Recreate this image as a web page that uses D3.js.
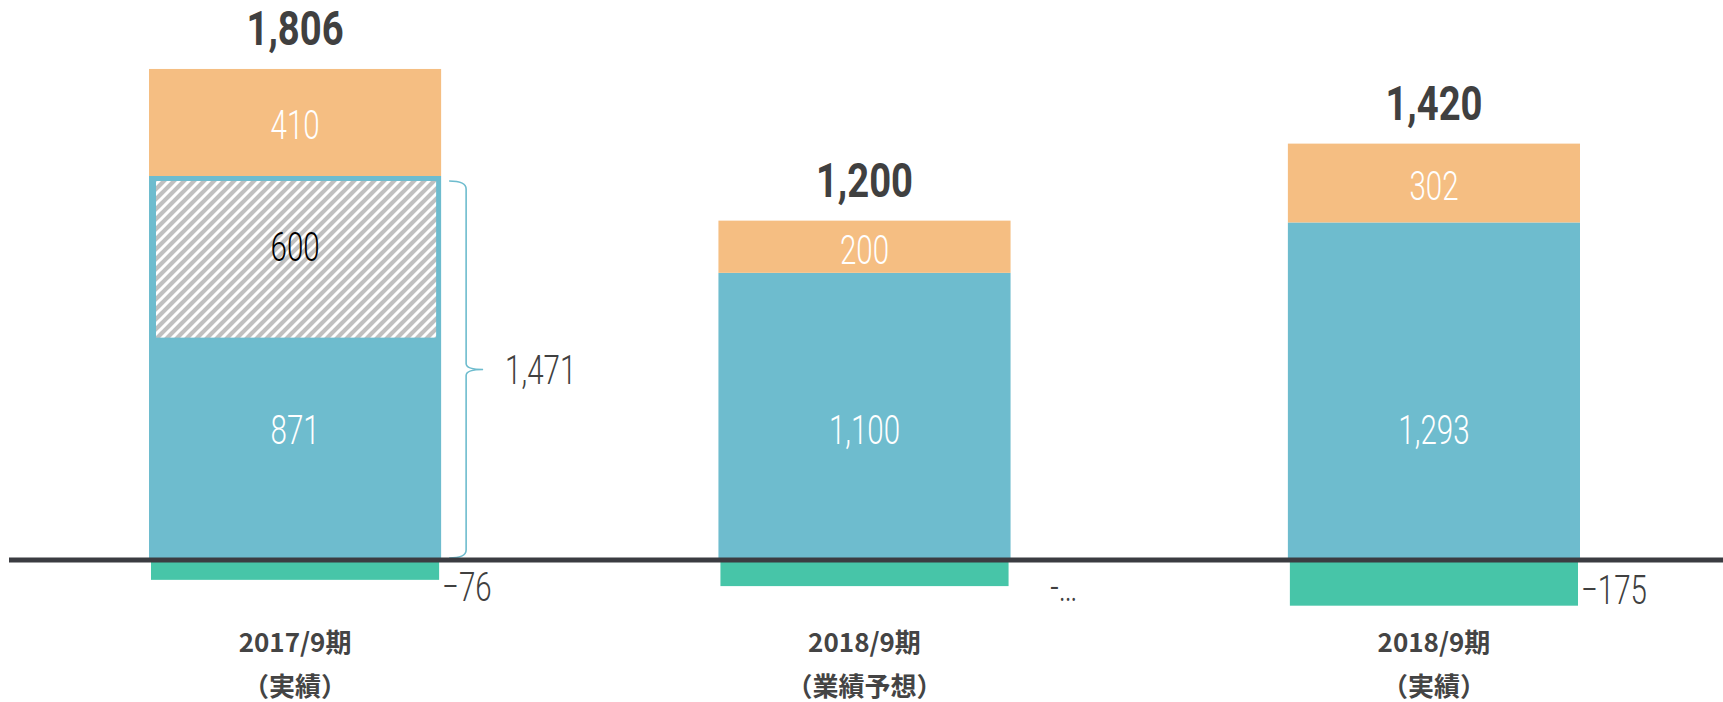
<html lang="ja">
  <head>
    <meta charset="utf-8">
    <title>Stacked bars</title>
    <script src="https://d3js.org/d3.v7.min.js"></script>
    <style>
    body { margin: 0; background: #fff; }
    .num { font-family: Roboto, "Liberation Sans", sans-serif; }
    .cat { font-family: "Noto Sans CJK JP", sans-serif; font-weight: 700; fill: #444; font-size: 26px; }
    </style>
  </head>
  <body>
    <svg class="chart" width="1723" height="702"></svg>
    <script>
      var categories = ["2017/9期", "2018/9期", "2018/9期"];
      var subLabels = ["（実績）", "（業績予想）", "（実績）"];
      var blueValues = [871, 1100, 1293];
      var hatchValues = [600, 0, 0];
      var orangeValues = [410, 200, 302];
      var negValues = [-76, -100, -175];
      var totals = [1806, 1200, 1420];
      var negTruncated = [false, true, false];

      var fmt = d3.format(",");
      var orange = "#f5be82", blue = "#6ebcce", green = "#47c5a8", dark = "#404040";

      var svg = d3.select(".chart");

      var defs = svg.append("defs");
      var pat = defs.append("pattern")
          .attr("id", "hatch")
          .attr("patternUnits", "userSpaceOnUse")
          .attr("width", 10).attr("height", 10);
      pat.append("rect").attr("width", 10).attr("height", 10).attr("fill", "#c0c0c0");
      pat.append("path")
          .attr("d", "M-3,3 l6,-6 M0,10 l10,-10 M7,13 l6,-6")
          .attr("stroke", "#fff").attr("stroke-width", 3);

      var x = d3.scaleBand().domain(d3.range(categories.length))
          .range([149, 1580]).paddingInner(0.487).paddingOuter(0);
      var y = d3.scaleLinear().domain([0, 1900]).range([560, 64]);
      var bw = x.bandwidth();

      // helper for the narrow light numbers
      function numText(g, px, py, str, o) {
        return g.append("text")
          .attr("class", "num")
          .attr("transform", "translate(" + px + "," + py + ") scale(" + (o.sx || 0.72) + ",1)")
          .attr("text-anchor", o.anchor || "middle")
          .attr("dy", o.dy !== undefined ? o.dy : "0.36em")
          .style("font-size", (o.size || 41) + "px")
          .style("font-weight", o.weight || 300)
          .attr("fill", o.fill || "#fff")
          .text(str);
      }

      var bars = svg.selectAll("g.bar")
          .data(categories)
        .enter().append("g")
          .attr("class", "bar");

      bars.each(function(d, i) {
        var g = d3.select(this);
        var x0 = x(i), cx = x0 + bw / 2;
        var b = blueValues[i], h = hatchValues[i], o = orangeValues[i], n = negValues[i];

        // blue (incl. hatched part)
        g.append("rect").attr("x", x0).attr("width", bw)
          .attr("y", y(b + h)).attr("height", y(0) - y(b + h)).attr("fill", blue);
        if (h > 0) {
          g.append("rect").attr("x", x0 + 7).attr("width", bw - 12)
            .attr("y", y(b + h) + 5).attr("height", y(b) - y(b + h)).attr("fill", "url(#hatch)");
          numText(g, cx, y(b + h / 2) - 8, fmt(h), {fill: "#000"});
        }
        // orange
        g.append("rect").attr("x", x0).attr("width", bw)
          .attr("y", y(b + h + o)).attr("height", y(b + h) - y(b + h + o)).attr("fill", orange);
        numText(g, cx, y(b + h + o / 2) + 2, fmt(o), {});
        numText(g, cx, y(500), fmt(b), {});

        // negative
        g.append("rect").attr("x", x0 + 2).attr("width", bw - 4)
          .attr("y", y(0)).attr("height", y(n) - y(0)).attr("fill", green);
        var ly = Math.max(y(n) - 16, y(0) + 26);
        if (negTruncated[i]) {
          var tmp = numText(g, 0, 0, fmt(n), {anchor: "start"});
          var w = tmp.node().getComputedTextLength() * 0.72;
          tmp.remove();
          numText(g, x0 + bw + 1 + w, ly, "-\u2026", {anchor: "end", fill: dark});
        } else {
          numText(g, x0 + bw + 1, ly, fmt(n), {anchor: "start", fill: dark});
        }

        // total
        numText(g, cx, y(b + h + o) - 24, fmt(totals[i]), {dy: 0, size: 49, weight: 700, sx: 0.78, fill: dark});

        // category labels
        g.append("text").attr("class", "cat").attr("x", cx).attr("y", 652)
          .attr("text-anchor", "middle").text(d);
        g.append("text").attr("class", "cat").attr("x", cx).attr("y", 696)
          .attr("text-anchor", "middle").text(subLabels[i]);

        // bracket for blue + hatch
        if (h > 0) {
          var bx = x0 + bw + 25, top = y(b + h) + 5, bot = y(0) - 2, mid = (top + bot) / 2;
          g.append("path")
            .attr("d", "M" + (bx - 17) + "," + top + " Q" + bx + "," + top + " " + bx + "," + (top + 8) +
                 " L" + bx + "," + (mid - 6) + " Q" + bx + "," + mid + " " + (bx + 17) + "," + mid +
                 " Q" + bx + "," + mid + " " + bx + "," + (mid + 6) +
                 " L" + bx + "," + (bot - 8) + " Q" + bx + "," + bot + " " + (bx - 17) + "," + bot)
            .attr("fill", "none").attr("stroke", blue).attr("stroke-width", 1.6);
          numText(g, bx + 39, mid, fmt(b + h), {anchor: "start", fill: dark});
        }
      });

      // zero line
      svg.append("line")
        .attr("x1", 9).attr("x2", 1723)
        .attr("y1", y(0)).attr("y2", y(0))
        .attr("stroke", "#3b3c41").attr("stroke-width", 5);
    </script>
  </body>
</html>
